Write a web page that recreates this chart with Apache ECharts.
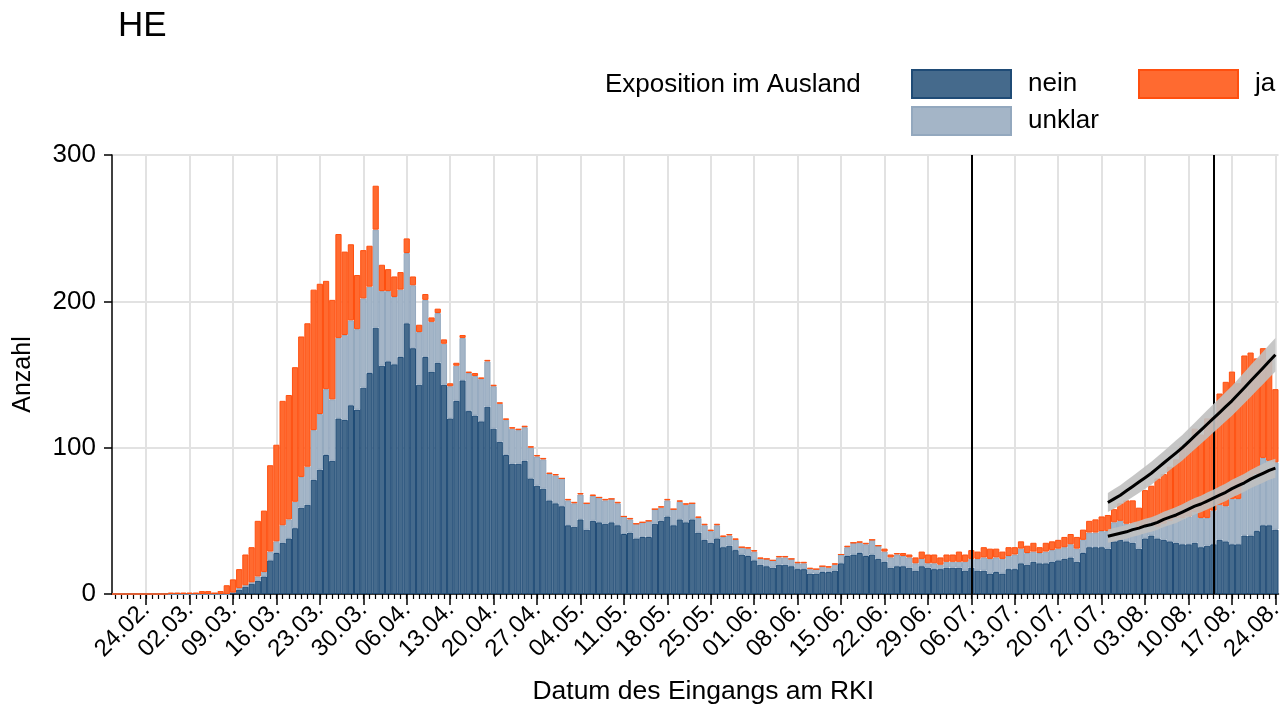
<!DOCTYPE html>
<html>
<head>
<meta charset="utf-8">
<script src="https://cdn.jsdelivr.net/npm/echarts@6/dist/echarts.min.js"></script>
<style>
html,body{margin:0;padding:0;background:#fff;}
#main{width:1286px;height:710px;}
</style>
</head>
<body>
<div id="main"></div>
<script>
const categories = [
'19.02.','20.02.','21.02.','22.02.','23.02.','24.02.','25.02.','26.02.','27.02.','28.02.','29.02.',
'01.03.','02.03.','03.03.','04.03.','05.03.','06.03.','07.03.','08.03.','09.03.','10.03.','11.03.','12.03.','13.03.','14.03.','15.03.','16.03.','17.03.','18.03.','19.03.','20.03.','21.03.','22.03.','23.03.','24.03.','25.03.','26.03.','27.03.','28.03.','29.03.','30.03.','31.03.',
'01.04.','02.04.','03.04.','04.04.','05.04.','06.04.','07.04.','08.04.','09.04.','10.04.','11.04.','12.04.','13.04.','14.04.','15.04.','16.04.','17.04.','18.04.','19.04.','20.04.','21.04.','22.04.','23.04.','24.04.','25.04.','26.04.','27.04.','28.04.','29.04.','30.04.',
'01.05.','02.05.','03.05.','04.05.','05.05.','06.05.','07.05.','08.05.','09.05.','10.05.','11.05.','12.05.','13.05.','14.05.','15.05.','16.05.','17.05.','18.05.','19.05.','20.05.','21.05.','22.05.','23.05.','24.05.','25.05.','26.05.','27.05.','28.05.','29.05.','30.05.','31.05.',
'01.06.','02.06.','03.06.','04.06.','05.06.','06.06.','07.06.','08.06.','09.06.','10.06.','11.06.','12.06.','13.06.','14.06.','15.06.','16.06.','17.06.','18.06.','19.06.','20.06.','21.06.','22.06.','23.06.','24.06.','25.06.','26.06.','27.06.','28.06.','29.06.','30.06.',
'01.07.','02.07.','03.07.','04.07.','05.07.','06.07.','07.07.','08.07.','09.07.','10.07.','11.07.','12.07.','13.07.','14.07.','15.07.','16.07.','17.07.','18.07.','19.07.','20.07.','21.07.','22.07.','23.07.','24.07.','25.07.','26.07.','27.07.','28.07.','29.07.','30.07.','31.07.',
'01.08.','02.08.','03.08.','04.08.','05.08.','06.08.','07.08.','08.08.','09.08.','10.08.','11.08.','12.08.','13.08.','14.08.','15.08.','16.08.','17.08.','18.08.','19.08.','20.08.','21.08.','22.08.','23.08.','24.08.'
];

const weekLabels = ['24.02.','02.03.','09.03.','16.03.','23.03.','30.03.','06.04.','13.04.','20.04.','27.04.','04.05.','11.05.','18.05.','25.05.','01.06.','08.06.','15.06.','22.06.','29.06.','06.07.','13.07.','20.07.','27.07.','03.08.','10.08.','17.08.','24.08.'];

const refLines = ['06.07.','14.08.'];

const nein = [
0,0,0,0,0,0,0,0,0,0,0,
0,0,0,0,0,0,0,0,1,3,5,7,9,12,23,28,35,38,45,59,61,78,85,95,91,120,119,129,126,141,151,
182,156,159,157,162,185,168,143,162,152,158,143,120,132,146,125,122,118,128,113,104,95,89,89,91,79,74,72,64,62,
60,47,46,51,44,50,49,48,49,47,41,42,38,39,39,48,50,53,47,51,49,51,42,37,35,38,32,33,30,27,26,
23,20,19,18,20,20,19,17,17,14,14,15,15,16,21,26,27,28,26,27,24,22,18,19,19,18,16,19,18,17,
17,18,18,18,16,18,16,16,14,15,14,17,17,21,20,22,21,21,22,23,24,25,22,28,32,32,32,31,36,37,36,
35,31,38,40,38,37,36,35,34,34,35,32,33,34,37,36,34,34,40,40,43,47,47,44
];

const unklar = [
0,0,0,0,0,0,0,0,0,0,0,
0,0,0,0,0,0,0,0,0,1,1,1,3,3,6,8,12,13,18,21,26,34,38,45,42,55,58,58,55,61,59,
67,51,48,46,46,48,43,36,39,34,34,28,22,24,29,26,27,29,31,29,26,24,24,23,23,21,20,20,18,19,
19,17,16,17,18,17,17,16,16,15,12,9,10,10,11,10,9,11,11,12,12,11,10,10,8,9,7,7,7,5,5,
6,4,5,5,5,5,5,4,4,3,3,4,3,4,6,6,8,7,8,10,9,7,7,8,7,7,5,5,3,4,
3,4,4,4,6,6,8,9,10,10,10,9,10,10,8,7,7,8,8,8,8,9,9,9,10,10,11,12,13,13,12,
13,14,9,9,8,11,14,17,18,19,21,20,19,23,24,24,31,31,36,38,39,46,44,46
];

const ja = [
0,0,0,0,0,0,0,0,0,1,1,
1,1,1,2,2,1,2,6,9,13,21,24,38,42,59,66,85,85,92,96,98,96,89,74,68,71,57,52,37,33,28,
30,18,15,14,12,10,6,5,4,3,3,3,2,2,2,1,2,1,1,1,1,1,1,1,1,1,1,1,1,1,
0,1,1,1,0,1,0,1,0,1,0,1,0,0,0,0,1,1,0,1,1,0,1,1,1,1,1,1,1,0,1,
1,1,0,0,1,1,0,1,1,1,0,0,1,1,0,1,0,1,1,0,0,2,2,1,2,2,4,5,6,6,
5,5,5,7,5,6,5,7,7,6,5,6,5,5,5,6,4,6,6,6,7,7,8,7,8,9,10,11,9,12,16,
16,14,24,25,33,34,37,40,49,52,57,57,68,64,76,85,87,79,87,87,79,75,69,50
];

// Fitted trend curves, starting at fitStart
const fitStart = '28.07.';
const fitTotal = [62.5,65,67.5,70.5,73.5,76.5,79.5,82.5,86,89.5,93,96.5,100,104,108,112,116,120,124,128,132,136.5,141,145.5,150,154.5,159,163.5];
const fitTotalHalf = [6.5,6.7,6.9,7,7.2,7.4,7.6,7.8,8,8.1,8.3,8.5,8.7,8.9,9.1,9.3,9.5,9.6,9.8,10,10.2,10.4,10.6,10.8,11,11.1,11.3,11.5];
const fitLocal = [39.5,40.5,41.5,42.5,44,45,46.5,47.5,49,51,52.5,54,56,58,60,61.5,63.5,65.5,67.5,69.5,72,74,76,78.5,80.5,82.5,84.5,86];
const fitLocalHalf = [4.5,4.6,4.6,4.7,4.8,4.9,5,5,5.1,5.2,5.3,5.4,5.4,5.5,5.6,5.7,5.8,5.8,5.9,6,6.1,6.2,6.2,6.3,6.4,6.5,6.5,6.5];

const yTicks = [0, 100, 200, 300];

// ---- build ----
const FONT = '"Liberation Sans", Arial, Helvetica, sans-serif';
const startIdx = categories.indexOf(fitStart);
function pad(arr) {
  const out = categories.map(() => '-');
  arr.forEach((v, k) => { out[startIdx + k] = v; });
  return out;
}
const weekSet = new Set(weekLabels);
const isWeek = (idx, val) => weekSet.has(categories[idx]);

const bandSeries = function (name, center, half, stackId) {
  return [
    {
      type: 'line', name: name + '_lo', stack: stackId, data: pad(center.map((c, k) => c - half[k])),
      symbol: 'none', lineStyle: { opacity: 0 }, silent: true, z: 5
    },
    {
      type: 'line', name: name + '_band', stack: stackId, data: pad(half.map(h => 2 * h)),
      symbol: 'none', lineStyle: { opacity: 0 }, areaStyle: { color: 'rgba(192,192,192,0.9)', opacity: 1 }, silent: true, z: 5
    },
    {
      type: 'line', name: name, data: pad(center), symbol: 'none',
      lineStyle: { color: '#000', width: 3 }, silent: true, z: 6
    }
  ];
};

const chart = echarts.init(document.getElementById('main'), null, { renderer: 'canvas' });

const barBase = { type: 'bar', stack: 'total', barCategoryGap: '0%', z: 3, xAxisIndex: 0 };
const legendText = { fontSize: 26, color: '#000', fontFamily: FONT, padding: [4, 0, 0, 12] };

const option = {
  animation: false,
  backgroundColor: '#fff',
  textStyle: { fontFamily: FONT },
  title: {
    text: 'HE', left: 113, top: 4,
    textStyle: { fontFamily: FONT, fontSize: 35, fontWeight: 'normal', color: '#000' }
  },
  graphic: [{
    type: 'text', left: 605, top: 72,
    style: { text: 'Exposition im Ausland', font: '26px ' + FONT, fill: '#000' }
  }],
  legend: [
    { data: ['nein'], left: 911, top: 69, padding: 0, itemWidth: 99, itemHeight: 28, icon: 'rect', selectedMode: false, textStyle: legendText },
    { data: ['ja'], left: 1138, top: 69, padding: 0, itemWidth: 99, itemHeight: 28, icon: 'rect', selectedMode: false, textStyle: legendText },
    { data: ['unklar'], left: 911, top: 106, padding: 0, itemWidth: 99, itemHeight: 28, icon: 'rect', selectedMode: false, textStyle: legendText }
  ],
  grid: { left: 112, right: 4, top: 155, bottom: 115, containLabel: false },
  xAxis: [
    {
      type: 'category', data: categories, boundaryGap: true,
      axisLine: { show: true, lineStyle: { color: '#000', width: 1.5 } },
      axisTick: { show: true, interval: 0, alignWithLabel: true, length: 5, lineStyle: { color: '#000', width: 1.2 } },
      axisLabel: { show: false },
      splitLine: { show: true, interval: isWeek, alignWithLabel: true, lineStyle: { color: '#e2e2e2', width: 2 } }
    },
    {
      type: 'category', data: categories, boundaryGap: true, position: 'bottom',
      axisLine: { show: false },
      axisTick: { show: true, interval: isWeek, alignWithLabel: true, length: 11, lineStyle: { color: '#000', width: 1.5 } },
      axisLabel: { show: true, interval: isWeek, rotate: 45, margin: 12, fontSize: 24, color: '#000', fontFamily: FONT },
      splitLine: { show: false },
      name: 'Datum des Eingangs am RKI', nameLocation: 'middle', nameGap: 84,
      nameTextStyle: { fontSize: 26.5, color: '#000', fontFamily: FONT, padding: [0, 0, 0, 16] }
    }
  ],
  yAxis: {
    type: 'value', min: yTicks[0], max: yTicks[yTicks.length - 1], interval: 100,
    axisLine: { show: true, lineStyle: { color: '#000', width: 1.5 } },
    axisTick: { show: true, length: 8, lineStyle: { color: '#000', width: 1.5 } },
    axisLabel: { fontSize: 26, color: '#000', margin: 16, fontFamily: FONT },
    splitLine: { show: true, lineStyle: { color: '#e2e2e2', width: 2 } },
    name: 'Anzahl', nameLocation: 'middle', nameGap: 76, nameRotate: 90,
    nameTextStyle: { fontSize: 25, color: '#000', fontFamily: FONT }
  },
  series: [
    {
      type: 'line', name: 'refLines', data: [], z: 1, silent: true,
      markLine: {
        silent: true, symbol: 'none', label: { show: false },
        lineStyle: { color: '#000', width: 2, type: 'solid' },
        data: refLines.map(d => ({ xAxis: d }))
      }
    },
    Object.assign({}, barBase, {
      name: 'nein', data: nein,
      itemStyle: { color: '#456a8c', borderColor: '#1f4b76', borderWidth: 1 }
    }),
    Object.assign({}, barBase, {
      name: 'unklar', data: unklar,
      itemStyle: { color: '#a4b5c7', borderColor: '#93a8be', borderWidth: 1 }
    }),
    Object.assign({}, barBase, {
      name: 'ja', data: ja,
      itemStyle: { color: '#ff6a30', borderColor: '#ff4f0f', borderWidth: 1 }
    })
  ]
    .concat(bandSeries('trendTotal', fitTotal, fitTotalHalf, 'bandTotal'))
    .concat(bandSeries('trendLocal', fitLocal, fitLocalHalf, 'bandLocal'))
};

chart.setOption(option);
</script>
</body>
</html>
